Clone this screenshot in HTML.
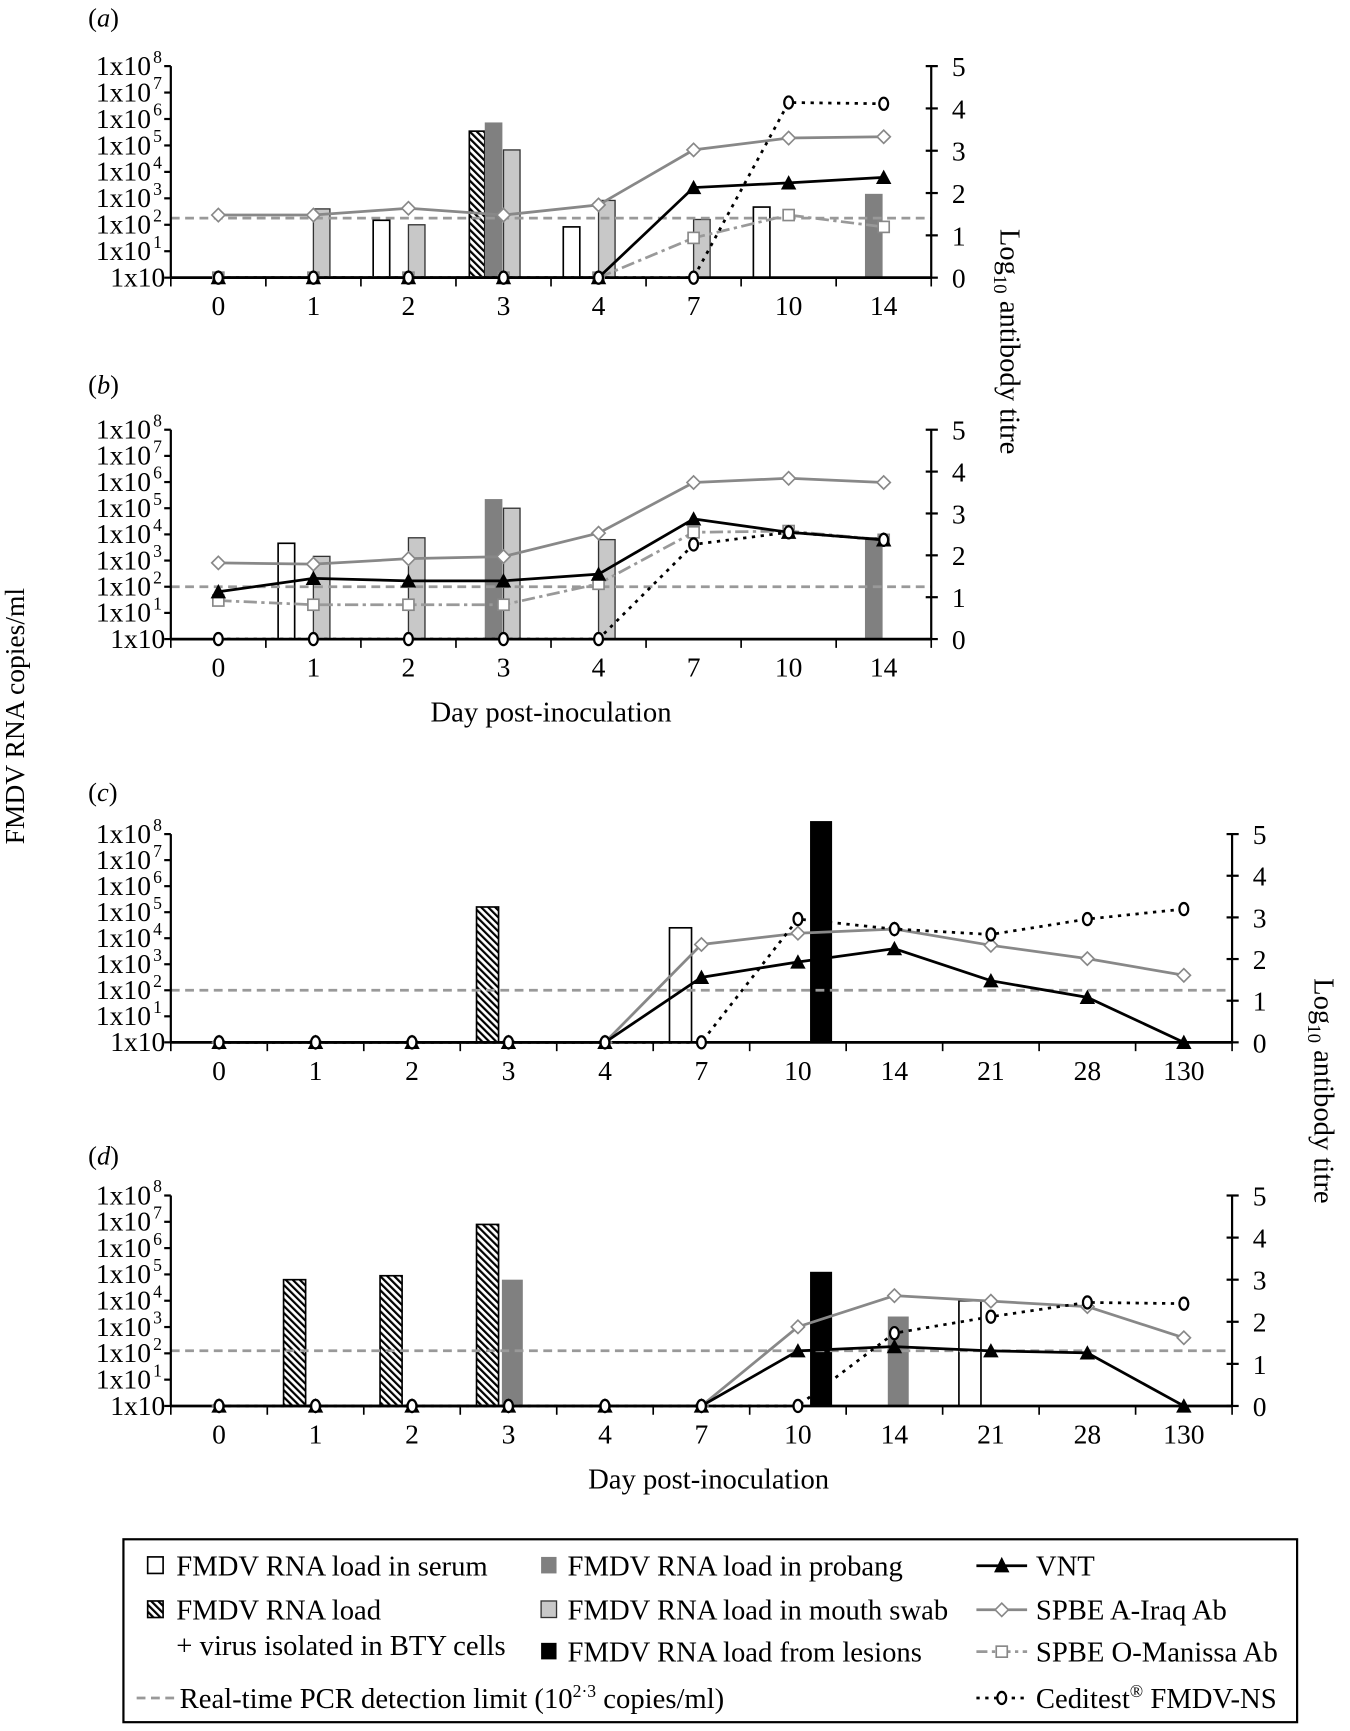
<!DOCTYPE html>
<html><head><meta charset="utf-8"><style>
html,body{margin:0;padding:0;background:#fff;}
svg{display:block;font-family:"Liberation Serif",serif;}
</style></head><body>
<svg id="fig" width="1350" height="1731" viewBox="0 0 1225 1571" preserveAspectRatio="none" xmlns="http://www.w3.org/2000/svg" font-family="Liberation Serif, serif">
<defs>
<pattern id="hatch" patternUnits="userSpaceOnUse" width="4.5" height="4.5" patternTransform="rotate(-45)">
<rect width="4.5" height="4.5" fill="#fff"/><rect width="2" height="4.5" fill="#000"/>
</pattern>
</defs>
</svg>
<script>
// ---------- DATA ----------
const catsAB = ["0","1","2","3","4","7","10","14"];
const catsCD = ["0","1","2","3","4","7","10","14","21","28","130"];
const leftTickLabels = ["1x10","1x10^1","1x10^2","1x10^3","1x10^4","1x10^5","1x10^6","1x10^7","1x10^8"];
const rightTickLabels = ["0","1","2","3","4","5"];
// log10 RNA loads (null = none)
const aSerum   = [null,null,2.17,null,1.92,null,2.67,null];
const aHatched = [null,null,null,5.54,null,null,null,null];
const aProbang = [null,null,null,5.87,null,null,null,3.17];
const aMouth   = [null,2.6,2.0,4.83,2.92,2.2,null,null];
const bSerum   = [null,3.66,null,null,null,null,null,null];
const bHatched = [null,null,null,null,null,null,null,null];
const bProbang = [null,null,null,5.35,null,null,null,3.9];
const bMouth   = [null,3.16,3.87,5.0,3.8,null,null,null];
const cSerum   = [null,null,null,null,null,4.4,null,null,null,null,null];
const cHatched = [null,null,null,5.2,null,null,null,null,null,null,null];
const cProbang = [null,null,null,null,null,null,null,null,null,null,null];
const cLesion  = [null,null,null,null,null,null,8.5,null,null,null,null];
const dSerum   = [null,null,null,null,null,null,null,null,4.0,null,null];
const dHatched = [null,4.8,4.95,6.9,null,null,null,null,null,null,null];
const dProbang = [null,null,null,4.8,null,null,null,3.4,null,null,null];
const dLesion  = [null,null,null,null,null,null,5.1,null,null,null,null];
// log10 antibody titres
const aIraqA = [1.48,1.48,1.64,1.48,1.72,3.02,3.3,3.33];
const aVNT   = [0,0,0,0,0,2.13,2.24,2.37];
const aOMan  = [0,0,0,0,0,0.94,1.48,1.2];
const aCedi  = [0,0,0,0,0,0,4.14,4.11];
const bIraqA = [1.82,1.79,1.92,1.97,2.53,3.74,3.84,3.74];
const bVNT   = [1.13,1.45,1.39,1.39,1.55,2.87,2.55,2.37];
const bOMan  = [0.92,0.82,0.82,0.82,1.32,2.55,2.58,2.37];
const bCedi  = [0,0,0,0,0,2.26,2.55,2.37];
const cIraqA = [0,0,0,0,0,2.35,2.62,2.72,2.33,2.01,1.61];
const cVNT   = [0,0,0,0,0,1.56,1.93,2.25,1.48,1.08,0];
const cCedi  = [0,0,0,0,0,0,2.96,2.72,2.59,2.96,3.2];
const dIraqA = [0,0,0,0,0,0,1.88,2.62,2.49,2.36,1.62];
const dVNT   = [0,0,0,0,0,0,1.31,1.41,1.31,1.26,0];
const dCedi  = [0,0,0,0,0,0,0,1.73,2.12,2.46,2.43];
const detLimit = [2.25,2.0,2.0,2.1];

// ---------- DRAW ----------
const NS="http://www.w3.org/2000/svg";
const svg=document.getElementById('fig');
function el(tag,attrs,parent){const e=document.createElementNS(NS,tag);for(const k in attrs)e.setAttribute(k,attrs[k]);(parent||svg).appendChild(e);return e;}
function txt(x,y,s,size,anchor,parent){const t=el('text',{x:x,y:y,'font-size':size,'text-anchor':anchor||'start'},parent);t.textContent=s;return t;}

const panels=[
 {id:'a',cats:catsAB,L:155,R:845,top:60,base:252,labY:15,
  serum:aSerum,hatched:aHatched,probang:aProbang,mouth:aMouth,lesion:null,
  iraq:aIraqA,vnt:aVNT,oman:aOMan,cedi:aCedi,det:detLimit[0],wide:false},
 {id:'b',cats:catsAB,L:155,R:845,top:390,base:580,labY:348,
  serum:bSerum,hatched:bHatched,probang:bProbang,mouth:bMouth,lesion:null,
  iraq:bIraqA,vnt:bVNT,oman:bOMan,cedi:bCedi,det:detLimit[1],wide:false},
 {id:'c',cats:catsCD,L:155,R:1118,top:757,base:946,labY:718,
  serum:cSerum,hatched:cHatched,probang:cProbang,mouth:null,lesion:cLesion,
  iraq:cIraqA,vnt:cVNT,oman:null,cedi:cCedi,det:detLimit[2],wide:true},
 {id:'d',cats:catsCD,L:155,R:1118,top:1085,base:1276,labY:1048,
  serum:dSerum,hatched:dHatched,probang:dProbang,mouth:null,lesion:dLesion,
  iraq:dIraqA,vnt:dVNT,oman:null,cedi:dCedi,det:detLimit[3],wide:true}
];

panels.forEach(p=>{
 const g=el('g',{});
 
 
 const n=p.cats.length, band=(p.R-p.L)/n;
 const xc=i=>p.L+band*(i+0.5);
 const yL=v=>p.base-v*(p.base-p.top)/8;
 const yR=v=>p.base-v*(p.base-p.top)/5;
 const lab=el('text',{x:80,y:p.labY+9,'font-size':24},g);
 
 
 lab.innerHTML='(<tspan font-style="italic">'+p.id+'</tspan>)';
 const W=p.wide;
 const barDefs=[
  ['serum',p.serum,W?-29:-32,W?20:15,{fill:'#fff',stroke:'#000','stroke-width':1.5}],
  ['hatched',p.hatched,W?-29:-31,W?20:14,{fill:'url(#hatch)',stroke:'#000','stroke-width':1.5}],
  ['probang',p.probang,W?-6:-17,W?19:16,{fill:'#808080'}],
  ['mouth',p.mouth,0,15,{fill:'#c8c8c8',stroke:'#333','stroke-width':1.2}],
  ['lesion',p.lesion,11,20,{fill:'#000'}]
 ];
 barDefs.forEach(([nm,arr,off,w,st])=>{
  if(!arr)return;
  arr.forEach((v,i)=>{
   if(v==null)return;
   const y=yL(v);
   const r=el('rect',Object.assign({x:xc(i)+off,y:y,width:w,height:p.base-y},st),g);
   
   
  });
 });
 const dl=el('line',{x1:p.L,x2:p.R,y1:yL(p.det),y2:yL(p.det),stroke:'#999','stroke-width':2.5,'stroke-dasharray':'8,5'},g);
 
 
 const xa=el('line',{x1:p.L,x2:p.R,y1:p.base,y2:p.base,stroke:'#000','stroke-width':2.5},g);
 
 
 for(let i=0;i<=n;i++){el('line',{x1:p.L+band*i,x2:p.L+band*i,y1:p.base,y2:p.base+8,stroke:'#000','stroke-width':1.5},g);}
 p.cats.forEach((c,i)=>{
  const t=txt(xc(i),p.base+34,c,25,'middle',g);
  
  
 });
 const la=el('line',{x1:p.L,x2:p.L,y1:p.top,y2:p.base,stroke:'#000','stroke-width':2},g);
 
 
 leftTickLabels.forEach((s,i)=>{
  const y=yL(i);
  el('line',{x1:p.L-6,x2:p.L,y1:y,y2:y,stroke:'#000','stroke-width':2},g);
  const parts=s.split('^');
  const t=el('text',{x:parts[1]?p.L-18:p.L-5,y:y+8,'font-size':25,'text-anchor':'end'},g);
  
  
  t.textContent=parts[0];
  if(parts[1]){const sp=el('text',{x:p.L-16,y:y-3,'font-size':16},g);sp.textContent=parts[1];}
 });
 const ra=el('line',{x1:p.R,x2:p.R,y1:p.top,y2:p.base,stroke:'#000','stroke-width':2},g);
 
 
 rightTickLabels.forEach((s,i)=>{
  const y=yR(i);
  el('line',{x1:p.R-5,x2:p.R+6,y1:y,y2:y,stroke:'#000','stroke-width':2},g);
  const t=txt(p.R+25,y+9,s,25,'middle',g);
  
  
 });
 function series(arr,nm,stroke,dash,marker){
  if(!arr)return;
  const pts=arr.map((v,i)=>xc(i)+','+yR(v)).join(' ');
  const pl=el('polyline',{points:pts,fill:'none',stroke:stroke,'stroke-width':2.5,'stroke-dasharray':dash||'none'},g);
  
  
  arr.forEach((v,i)=>{
   const x=xc(i),y=yR(v);let m;
   if(marker==='tri')m=el('polygon',{points:(x-7)+','+(y+6)+' '+(x+7)+','+(y+6)+' '+x+','+(y-7),fill:'#000'},g);
   else if(marker==='dia')m=el('polygon',{points:(x-6)+','+y+' '+x+','+(y-6)+' '+(x+6)+','+y+' '+x+','+(y+6),fill:'#fff',stroke:'#888','stroke-width':1.5},g);
   else if(marker==='sq')m=el('rect',{x:x-5,y:y-5,width:10,height:10,fill:'#fff',stroke:'#888','stroke-width':1.5},g);
   else m=el('ellipse',{cx:x,cy:y,rx:4,ry:5.5,fill:'#fff',stroke:'#000','stroke-width':2},g);
   
   
  });
 }
 series(p.iraq,'spbe-a-iraq','#888',null,'dia');
 series(p.oman,'spbe-o-manissa','#999','12,4,3,4','sq');
 series(p.vnt,'vnt','#000',null,'tri');
 series(p.cedi,'ceditest','#000','3,5','circ');
});

function rot(x,y,ang,s,nm,size){const t=el('text',{x:0,y:0,'font-size':size,'text-anchor':'middle',transform:'translate('+x+','+y+') rotate('+ang+')'});t.innerHTML=s;return t;}
rot(22,650,-90,'FMDV RNA copies/ml','left-y-axis-title',25);
rot(908,310,90,'Log<tspan font-size="17" dy="6">10</tspan><tspan dy="-6"> antibody titre</tspan>','right-y-axis-title-ab',26);
rot(1193,990,90,'Log<tspan font-size="17" dy="6">10</tspan><tspan dy="-6"> antibody titre</tspan>','right-y-axis-title-cd',26);
let t=txt(500,655,'Day post-inoculation',26,'middle');
t=txt(643,1351,'Day post-inoculation',26,'middle');

const lg=el('g',{});


el('rect',{x:112,y:1397,width:1065,height:166,fill:'#fff',stroke:'#000','stroke-width':2},lg);
function sw(x,y,st,nm){const r=el('rect',Object.assign({x:x,y:y-8,width:14,height:15},st),lg);}
function lt(x,y,s,nm){const tt=el('text',{x:x,y:y+9,'font-size':26},lg);tt.innerHTML=s;}
sw(134,1421,{fill:'#fff',stroke:'#000','stroke-width':1.5},'legend-swatch-serum');lt(160,1421,'FMDV RNA load in serum','legend-entry-serum');
sw(134,1461,{fill:'url(#hatch)',stroke:'#000','stroke-width':1.5},'legend-swatch-hatched');lt(160,1461,'FMDV RNA load','legend-entry-hatched');
lt(160,1493,'+ virus isolated in BTY cells','legend-entry-hatched-2');
sw(491,1421,{fill:'#808080'},'legend-swatch-probang');lt(515,1421,'FMDV RNA load in probang','legend-entry-probang');
sw(491,1461,{fill:'#c8c8c8',stroke:'#333','stroke-width':1.2},'legend-swatch-mouth');lt(515,1461,'FMDV RNA load in mouth swab','legend-entry-mouth');
sw(491,1499,{fill:'#000'},'legend-swatch-lesions');lt(515,1499,'FMDV RNA load from lesions','legend-entry-lesions');
el('line',{x1:124,x2:158,y1:1541,y2:1541,stroke:'#999','stroke-width':2.5,'stroke-dasharray':'8,5'},lg);
lt(163,1541,'Real-time PCR detection limit (10<tspan font-size="16" dy="-10">2·3</tspan><tspan dy="10"> copies/ml)</tspan>','legend-entry-detection');
el('line',{x1:886,x2:932,y1:1421,y2:1421,stroke:'#000','stroke-width':2.5},lg);
el('polygon',{points:'902,1427 916,1427 909,1413',fill:'#000'},lg);lt(940,1421,'VNT','legend-entry-vnt');
el('line',{x1:886,x2:932,y1:1461,y2:1461,stroke:'#888','stroke-width':2.5},lg);
el('polygon',{points:'903,1461 909,1455 915,1461 909,1467',fill:'#fff',stroke:'#888','stroke-width':1.5},lg);lt(940,1461,'SPBE A-Iraq Ab','legend-entry-a-iraq');
el('line',{x1:886,x2:932,y1:1499,y2:1499,stroke:'#999','stroke-width':2.5,'stroke-dasharray':'10,4,3,4'},lg);
el('rect',{x:904,y:1494,width:10,height:10,fill:'#fff',stroke:'#888','stroke-width':1.5},lg);lt(940,1499,'SPBE O-Manissa Ab','legend-entry-o-manissa');
el('line',{x1:886,x2:932,y1:1541,y2:1541,stroke:'#000','stroke-width':2.5,'stroke-dasharray':'3,5'},lg);
el('ellipse',{cx:909,cy:1541,rx:4,ry:5.5,fill:'#fff',stroke:'#000','stroke-width':2},lg);
lt(940,1541,'Ceditest<tspan font-size="16" dy="-10">®</tspan><tspan dy="10"> FMDV-NS</tspan>','legend-entry-ceditest');
</script>
</body></html>
